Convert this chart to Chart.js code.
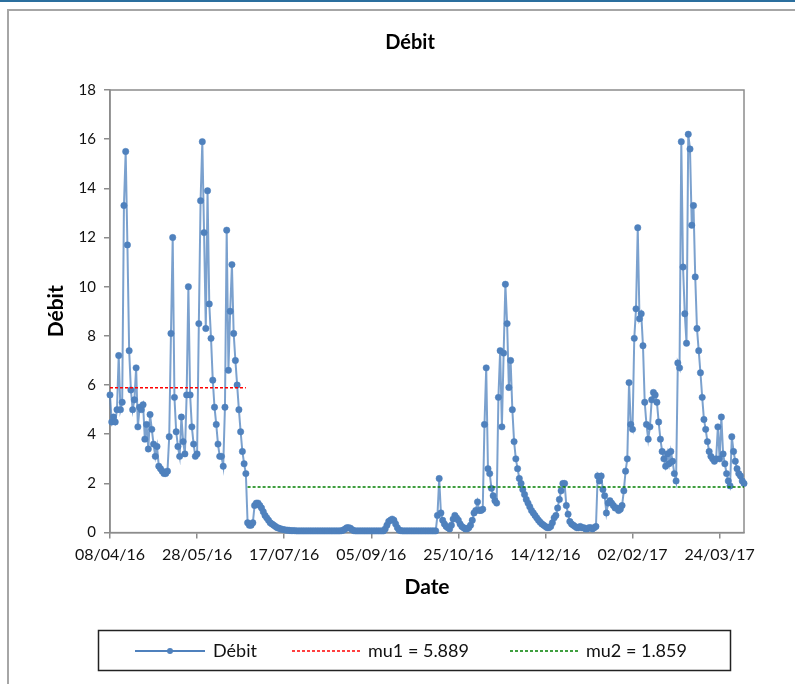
<!DOCTYPE html>
<html>
<head>
<meta charset="utf-8">
<title>Débit</title>
<script src="https://cdn.jsdelivr.net/npm/chart.js@4.4.1/dist/chart.umd.min.js"></script>
<style>
  body { margin: 0; background: #fff; }
  #topbar { position: absolute; left: 0; top: 0; width: 795px; height: 2px; background: #2b6f9e; }
  #frame { position: absolute; left: 7px; top: 9px; width: 800px; height: 700px;
           border-left: 2px solid #a6a6a6; border-top: 2px solid #a6a6a6; }
  #wrap { position: absolute; left: 0; top: 0; width: 795px; height: 684px; }
</style>
</head>
<body>
<div id="topbar"></div>
<div id="frame"></div>
<div id="wrap"><canvas id="debit-canvas" width="795" height="684"></canvas></div>
<script>
// daily flow, one value per day starting 08/04/16
const startDay = Date.UTC(2016, 3, 8);
const debit = [
  5.6, 4.5, 4.7, 4.5, 5.0, 7.2, 5.0, 5.3, 13.3, 15.5,
  11.7, 7.4, 5.8, 5.0, 5.4, 6.7, 4.3, 5.1, 5.0, 5.2,
  3.8, 4.4, 3.4, 4.8, 4.2, 3.6, 3.1, 3.5, 2.7, 2.6,
  2.5, 2.4, 2.4, 2.5, 3.9, 8.1, 12.0, 5.5, 4.1, 3.5,
  3.1, 4.7, 3.7, 3.2, 5.6, 10.0, 5.6, 4.3, 3.6, 3.1,
  3.2, 8.5, 13.5, 15.9, 12.2, 8.3, 13.9, 9.3, 7.9, 6.2,
  5.1, 4.4, 3.6, 3.1, 3.1, 2.7, 5.1, 12.3, 6.6, 9.0,
  10.9, 8.1, 7.0, 6.0, 5.0, 4.1, 3.3, 2.8, 2.4, 0.4,
  0.3, 0.3, 0.4, 1.1, 1.2, 1.2, 1.1, 1.0, 0.85, 0.7,
  0.6, 0.5, 0.4, 0.35, 0.3, 0.25, 0.2, 0.18, 0.15, 0.13,
  0.12, 0.1, 0.1, 0.09, 0.08, 0.08, 0.08, 0.07, 0.07, 0.07,
  0.07, 0.07, 0.07, 0.07, 0.07, 0.07, 0.07, 0.07, 0.07, 0.07,
  0.07, 0.07, 0.07, 0.07, 0.07, 0.07, 0.07, 0.07, 0.07, 0.07,
  0.07, 0.07, 0.07, 0.08, 0.1, 0.15, 0.2, 0.2, 0.18, 0.12,
  0.08, 0.07, 0.07, 0.07, 0.07, 0.07, 0.07, 0.07, 0.07, 0.07,
  0.07, 0.07, 0.07, 0.07, 0.07, 0.07, 0.07, 0.07, 0.15, 0.3,
  0.45, 0.5, 0.55, 0.5, 0.35, 0.2, 0.1, 0.08, 0.07, 0.07,
  0.07, 0.07, 0.07, 0.07, 0.07, 0.07, 0.07, 0.07, 0.07, 0.07,
  0.07, 0.07, 0.07, 0.07, 0.07, 0.07, 0.07, 0.07, 0.7, 2.2,
  0.8, 0.5, 0.35, 0.25, 0.2, 0.15, 0.3, 0.55, 0.7, 0.6,
  0.5, 0.35, 0.25, 0.2, 0.15, 0.15, 0.2, 0.3, 0.5, 0.8,
  0.9, 1.25, 0.9, 0.9, 0.95, 4.4, 6.7, 2.6, 2.4, 1.8,
  1.5, 1.3, 1.2, 5.5, 7.4, 4.3, 7.3, 10.1, 8.5, 5.9,
  7.0, 5.0, 3.7, 3.0, 2.6, 2.2, 2.0, 1.75, 1.55, 1.35,
  1.2, 1.05, 0.9, 0.8, 0.7, 0.6, 0.5, 0.42, 0.35, 0.3,
  0.25, 0.2, 0.2, 0.25, 0.4, 0.6, 0.7, 1.0, 1.35, 1.7,
  2.0, 2.0, 1.1, 0.75, 0.45, 0.35, 0.3, 0.25, 0.2, 0.2,
  0.25, 0.2, 0.2, 0.15, 0.15, 0.2, 0.2, 0.15, 0.2, 0.25,
  2.3, 2.1, 2.3, 1.75, 1.5, 0.8, 1.2, 1.3, 1.2, 1.1,
  1.0, 1.0, 0.9, 0.95, 1.1, 1.7, 2.5, 3.0, 6.1, 4.4,
  4.2, 7.9, 9.1, 12.4, 8.7, 8.9, 7.6, 5.3, 4.4, 3.8,
  4.3, 5.4, 5.7, 5.6, 5.3, 4.5, 3.8, 3.3, 3.0, 2.7,
  3.2, 2.8, 3.3, 2.9, 2.4, 2.1, 6.9, 6.7, 15.9, 10.8,
  8.9, 7.7, 16.2, 15.6, 12.5, 13.3, 10.4, 8.3, 7.4, 6.5,
  5.5, 4.6, 4.2, 3.7, 3.3, 3.1, 3.0, 2.9, 3.0, 4.3,
  3.0, 4.7, 3.2, 2.8, 2.4, 2.1, 1.9, 3.9, 3.3, 2.9,
  2.6, 2.4, 2.3, 2.1, 2.0
];
// the two mean levels and the day ranges they cover
const mu1 = 5.889;
const mu1Days = [0, 78];
const mu2 = 1.859;
const mu2Days = [79, 364];
const lastDay = 364;

const blue = '#4f81bd';
const fontFam = 'Lato, "Liberation Sans", sans-serif';

function dayLabel(n) {
  const d = new Date(startDay + n * 86400000);
  const p = v => String(v).padStart(2, '0');
  return p(d.getUTCDate()) + '/' + p(d.getUTCMonth() + 1) + '/' + p(d.getUTCFullYear() % 100);
}

// title, grey box around the plot area, framed legend under the chart
const plotFrame = {
  id: 'plotFrame',
  beforeDatasetsDraw(chart) {
    const a = chart.chartArea, ctx = chart.ctx;
    ctx.save();
    ctx.strokeStyle = '#8c8c8c';
    ctx.lineWidth = 1.5;
    ctx.strokeRect(a.left, a.top, a.right - a.left, a.bottom - a.top);
    ctx.restore();
  },
  afterDraw(chart) {
    const ctx = chart.ctx;
    ctx.save();
    ctx.fillStyle = '#000';
    ctx.font = 'bold 20px ' + fontFam;
    ctx.textAlign = 'center';
    ctx.textBaseline = 'middle';
    ctx.fillText('Débit', 410, 43);

    const y = 651;
    ctx.textAlign = 'left';
    ctx.strokeStyle = '#222';
    ctx.lineWidth = 1.5;
    ctx.strokeRect(98.5, 630.5, 632, 40);
    ctx.font = '18px ' + fontFam;

    ctx.strokeStyle = blue;
    ctx.lineWidth = 2;
    ctx.beginPath(); ctx.moveTo(135, y); ctx.lineTo(205, y); ctx.stroke();
    ctx.fillStyle = blue;
    ctx.beginPath(); ctx.arc(170, y, 3, 0, Math.PI * 2); ctx.fill();
    ctx.fillStyle = '#111';
    ctx.fillText('Débit', 213, y);

    ctx.lineWidth = 1.5;
    ctx.setLineDash([3, 2]);
    ctx.strokeStyle = '#ff0000';
    ctx.beginPath(); ctx.moveTo(292, y); ctx.lineTo(360, y); ctx.stroke();
    ctx.fillText('mu1 = ' + mu1, 368, y);
    ctx.strokeStyle = '#008000';
    ctx.beginPath(); ctx.moveTo(510, y); ctx.lineTo(578, y); ctx.stroke();
    ctx.fillText('mu2 = ' + mu2, 586, y);
    ctx.restore();
  }
};

const data = {
  datasets: [
    {
      label: 'Débit',
      data: debit.map((v, i) => ({x: i, y: v})),
      borderColor: 'rgba(79,129,189,0.75)',
      borderWidth: 2,
      backgroundColor: blue,
      pointBackgroundColor: blue,
      pointBorderColor: blue,
      pointRadius: 3.2,
      pointBorderWidth: 0.5,
      clip: 5,
      order: 1
    },
    {
      label: 'mu1 = ' + mu1,
      data: mu1Days.map(d => ({x: d, y: mu1})),
      borderColor: '#ff0000',
      borderWidth: 1.5,
      borderDash: [3, 2],
      pointRadius: 0,
      order: 0
    },
    {
      label: 'mu2 = ' + mu2,
      data: mu2Days.map(d => ({x: d, y: mu2})),
      borderColor: '#008000',
      borderWidth: 1.5,
      borderDash: [3, 2],
      pointRadius: 0,
      order: 0
    }
  ]
};

const titleFont = {family: fontFam, size: 21, weight: 'bold'};

const config = {
  type: 'line',
  data: data,
  plugins: [plotFrame],
  options: {
    responsive: false,
    animation: false,
    layout: {padding: {left: 8, top: 90, right: 51, bottom: 80}},
    plugins: {
      legend: {display: false},
      tooltip: {enabled: false},
      title: {display: false}
    },
    scales: {
      x: {
        type: 'linear',
        min: 0,
        max: lastDay,
        ticks: {
          stepSize: 50,
          includeBounds: false,
          maxRotation: 0,
          color: '#111',
          font: {family: fontFam, size: 16},
          padding: 7,
          callback: v => dayLabel(v)
        },
        grid: {drawOnChartArea: false, tickLength: 6, color: '#8c8c8c', lineWidth: 1.5},
        border: {color: '#8c8c8c', width: 1.5},
        title: {display: true, text: 'Date', color: '#000', font: titleFont, padding: {top: 3, bottom: 4}}
      },
      y: {
        min: 0,
        max: 18,
        ticks: {stepSize: 2, color: '#111', font: {family: fontFam, size: 15}, padding: 8},
        grid: {drawOnChartArea: false, tickLength: 6, color: '#8c8c8c', lineWidth: 1.5},
        border: {color: '#8c8c8c', width: 1.5},
        title: {display: true, text: 'Débit', color: '#000', font: titleFont, padding: {top: 36, bottom: 0}},
        afterFit: s => { s.width = 102; }
      }
    }
  }
};

const chart = new Chart(document.getElementById('debit-canvas').getContext('2d'), config);
</script>
</body>
</html>
